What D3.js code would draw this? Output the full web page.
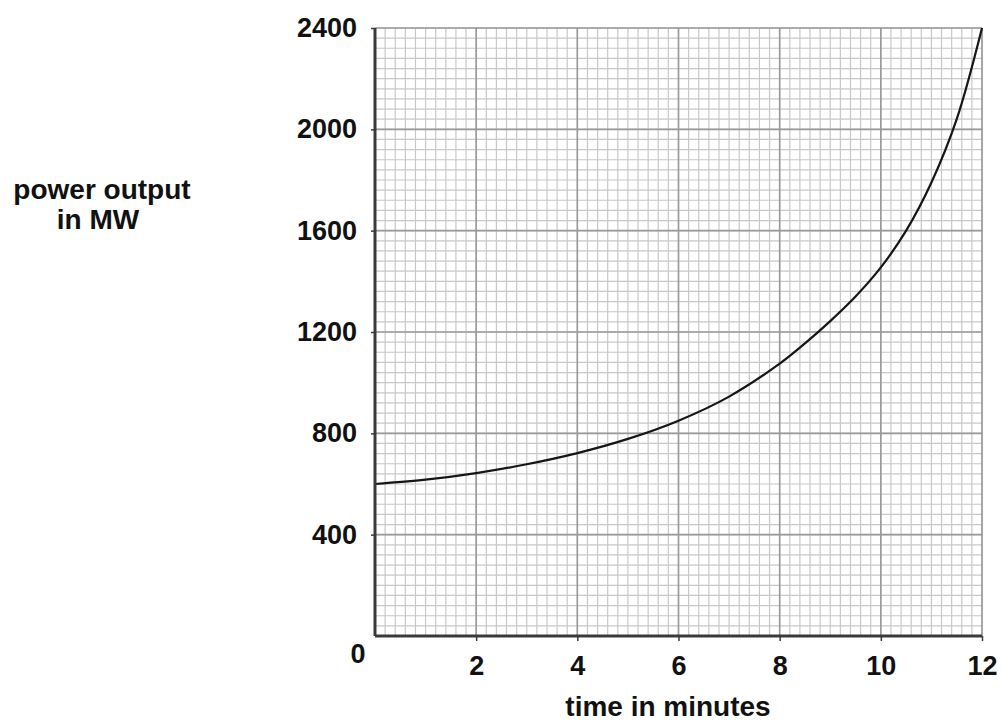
<!DOCTYPE html>
<html>
<head>
<meta charset="utf-8">
<script src="https://cdn.jsdelivr.net/npm/d3@7"></script>
<style>
    body { margin: 0; background: #fff; }
    text { font-family: "Liberation Sans", Arial, sans-serif; font-weight: bold; fill: #111; }
</style>
</head>
<body>
<div id="wrapper"></div>
<script>
const timeMinutes = [0, 1, 2, 3, 4, 5, 6, 7, 8, 8.5, 9, 9.5, 10, 10.5, 11, 11.5, 12];
const powerMW = [600, 617, 643, 678, 722, 778, 850, 945, 1075, 1155, 1243, 1340, 1455, 1600, 1790, 2040, 2400];
const xTickLabels = [2, 4, 6, 8, 10, 12];
const yTickLabels = [400, 800, 1200, 1600, 2000, 2400];

function buildPlot() {
    const data = timeMinutes.map((t, i) => ({ t: t, p: powerMW[i] }));

    var dimension = {
        width: 1002,
        height: 723,
        margin: { top: 28, left: 375, bottom: 87, right: 20 }
    };
    dimension.boundedWidth = dimension.width - dimension.margin.left - dimension.margin.right;
    dimension.boundedHeight = dimension.height - dimension.margin.top - dimension.margin.bottom;

    const svg = d3.select("#wrapper").append("svg")
        .attr("width", dimension.width)
        .attr("height", dimension.height);
    const bounded = svg.append("g")
        .attr("transform", `translate(${dimension.margin.left}, ${dimension.margin.top})`);

    const xScale = d3.scaleLinear().domain([0, 12]).range([0, dimension.boundedWidth]);
    const yScale = d3.scaleLinear().domain([0, 2400]).range([dimension.boundedHeight, 0]);

    // minor grid (0.2 min / 40 MW)
    const minorX = d3.range(0, 12.001, 0.2);
    const minorY = d3.range(0, 2400.1, 40);
    bounded.append("g").selectAll("line").data(minorX).join("line")
        .attr("x1", d => xScale(d)).attr("x2", d => xScale(d))
        .attr("y1", 0).attr("y2", dimension.boundedHeight)
        .attr("stroke", "#c8c8c8").attr("stroke-width", 1.2);
    bounded.append("g").selectAll("line").data(minorY).join("line")
        .attr("y1", d => yScale(d)).attr("y2", d => yScale(d))
        .attr("x1", 0).attr("x2", dimension.boundedWidth)
        .attr("stroke", "#c8c8c8").attr("stroke-width", 1.2);

    // major grid
    bounded.append("g").selectAll("line").data(d3.range(0, 13, 2)).join("line")
        .attr("x1", d => xScale(d)).attr("x2", d => xScale(d))
        .attr("y1", 0).attr("y2", dimension.boundedHeight)
        .attr("stroke", "#999").attr("stroke-width", 1.6);
    bounded.append("g").selectAll("line").data(d3.range(0, 2401, 400)).join("line")
        .attr("y1", d => yScale(d)).attr("y2", d => yScale(d))
        .attr("x1", 0).attr("x2", dimension.boundedWidth)
        .attr("stroke", "#999").attr("stroke-width", 1.6);

    // curve
    const line = d3.line()
        .x(d => xScale(d.t))
        .y(d => yScale(d.p))
        .curve(d3.curveCatmullRom.alpha(0.5));
    bounded.append("path")
        .attr("d", line(data))
        .attr("fill", "none")
        .attr("stroke", "#151515")
        .attr("stroke-width", 2.2);

    // axes
    const xAxis = d3.axisBottom(xScale).tickValues(xTickLabels).tickSize(5).tickPadding(15)
        .tickFormat(d3.format("d"));
    const yAxis = d3.axisLeft(yScale).tickValues(yTickLabels).tickSize(4).tickPadding(14)
        .tickFormat(d3.format("d"));

    const gx = bounded.append("g")
        .attr("transform", `translate(0, ${dimension.boundedHeight})`)
        .call(xAxis);
    const gy = bounded.append("g").call(yAxis);

    [gx, gy].forEach(g => {
        g.select(".domain").attr("stroke", "#3a3a3a").attr("stroke-width", 3);
        g.selectAll(".tick line").attr("stroke", "#3a3a3a").attr("stroke-width", 1.5);
        g.selectAll(".tick text")
            .attr("font-family", "Liberation Sans, Arial, sans-serif")
            .attr("font-weight", "bold")
            .attr("font-size", 27)
            .attr("fill", "#111");
    });
    gy.select(".domain").attr("d", `M0,0V${dimension.boundedHeight}`);
    gx.select(".domain").attr("d", `M0,0H${dimension.boundedWidth}`);

    // "0" at origin
    bounded.append("text")
        .attr("x", -17)
        .attr("y", dimension.boundedHeight + 27)
        .attr("text-anchor", "middle")
        .attr("font-size", 27)
        .text("0");

    // axis titles
    svg.append("text")
        .attr("x", 668)
        .attr("y", 716)
        .attr("text-anchor", "middle")
        .attr("font-size", 28)
        .text("time in minutes");

    const yTitle = svg.append("text")
        .attr("text-anchor", "middle")
        .attr("font-size", 28);
    yTitle.append("tspan").attr("x", 102).attr("y", 199).text("power output");
    yTitle.append("tspan").attr("x", 98).attr("y", 229).text("in MW");
}

buildPlot();
</script>
</body>
</html>
